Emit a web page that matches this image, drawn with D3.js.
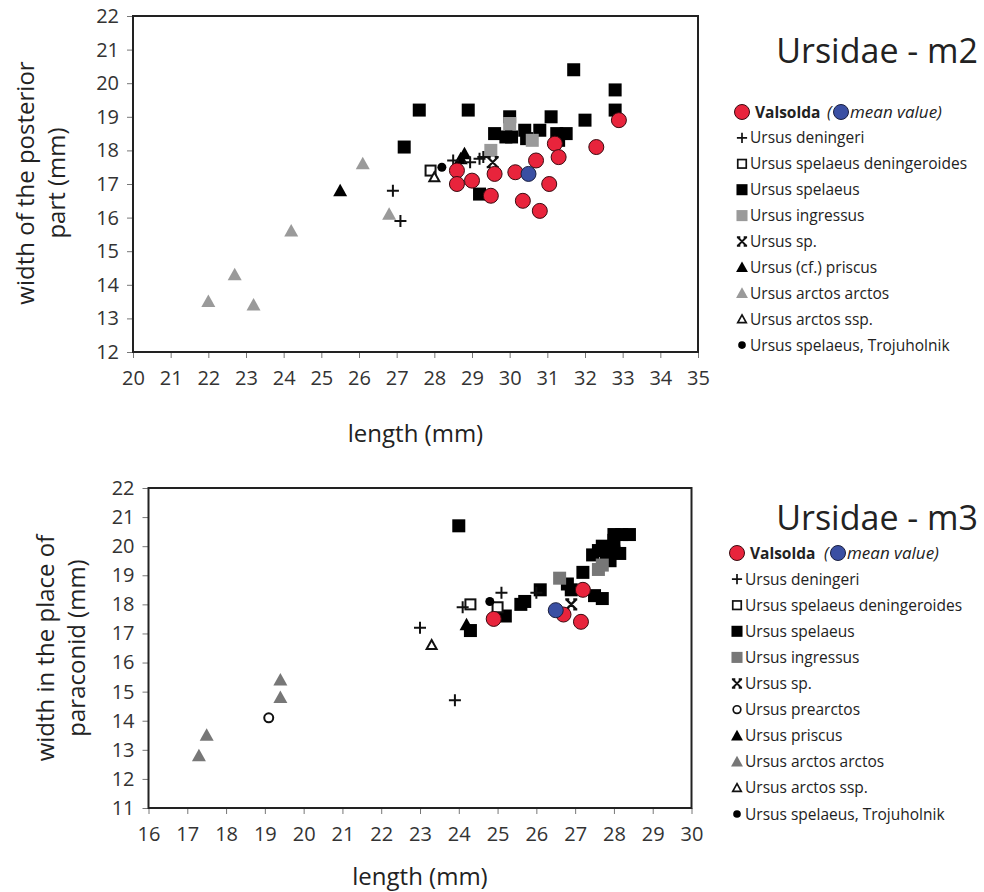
<!DOCTYPE html>
<html lang="en">
<head>
    <meta charset="UTF-8">
    <title>Ursidae m2 / m3</title>
    <style>
        body { margin: 0; background-color: #fff; }
        svg { display: block; }
        text { font-family: "Open Sans", Arial, sans-serif; fill: #222; }
        .tick text { font-size: 20px; fill: #333; }
        .tick line { stroke: #777; }
        .domain { display: none; }
    </style>
    <script src="https://d3js.org/d3.v7.min.js"></script>
</head>
<body>
<svg width="984" height="892"></svg>
<script>
    // ---- m2 data (length, width) ----
    const m2Valsolda = [[32.9,18.9],[32.3,18.1],[31.2,18.2],[31.3,17.8],[30.7,17.7],[30.15,17.35],[29.6,17.3],[29.0,17.1],[28.6,17.4],[28.6,17.0],[29.5,16.65],[31.05,17.0],[30.35,16.5],[30.8,16.2]];
    const m2Mean = [[30.5,17.3]];
    const m2Deningeri = [[26.9,16.8],[27.1,15.9],[28.5,17.7],[28.95,17.65],[29.2,17.75],[29.3,17.8]];
    const m2Deningeroides = [[27.9,17.4]];
    const m2Spelaeus = [[27.2,18.1],[27.6,19.2],[28.9,19.2],[29.2,16.7],[29.6,18.5],[29.9,18.4],[30.05,18.4],[30.0,19.0],[30.4,18.6],[30.8,18.6],[31.1,19.0],[31.25,18.5],[31.5,18.5],[31.3,18.3],[30.45,18.35],[31.7,20.4],[32.0,18.9],[32.8,19.8],[32.8,19.2]];
    const m2Ingressus = [[30.0,18.8],[29.5,18.0],[30.6,18.3]];
    const m2Sp = [[29.55,17.65]];
    const m2Priscus = [[25.5,16.8],[28.8,17.9],[28.7,17.75]];
    const m2Arctos = [[22.0,13.5],[22.7,14.3],[23.2,13.4],[24.2,15.6],[26.1,17.6],[26.8,16.1]];
    const m2ArctosSsp = [[28.0,17.2]];
    const m2Trojuholnik = [[28.2,17.5]];

    // ---- m3 data (length, width) ----
    const m3Valsolda = [[24.9,17.5],[26.7,17.65],[27.15,17.4],[27.2,18.5]];
    const m3Mean = [[26.5,17.8]];
    const m3Deningeri = [[23.0,17.2],[23.9,14.7],[24.1,17.9],[25.1,18.4],[26.0,18.4]];
    const m3Deningeroides = [[24.3,18.0],[25.0,17.9]];
    const m3Spelaeus = [[24.0,20.7],[24.3,17.1],[25.2,17.6],[25.6,18.0],[25.7,18.1],[26.1,18.5],[26.8,18.7],[26.9,18.5],[27.2,19.1],[27.5,18.3],[27.7,18.2],[27.45,19.7],[27.6,19.85],[27.7,20.0],[27.8,19.7],[27.9,19.5],[28.0,19.8],[28.15,19.75],[28.0,20.2],[28.0,20.4],[28.2,20.4],[28.4,20.4]];
    const m3Ingressus = [[26.6,18.9],[27.6,19.2],[27.7,19.35]];
    const m3Sp = [[26.9,18.0]];
    const m3Prearctos = [[19.1,14.1]];
    const m3Priscus = [[24.2,17.3]];
    const m3Arctos = [[17.3,12.8],[17.5,13.5],[19.4,14.8],[19.4,15.4]];
    const m3ArctosSsp = [[23.3,16.6]];
    const m3Trojuholnik = [[24.8,18.1]];

    // ticks
    const m2XTicks = d3.range(20, 36);
    const m2YTicks = d3.range(12, 23);
    const m3XTicks = d3.range(16, 31);
    const m3YTicks = d3.range(11, 23);

    // legends
    const m2Legend = ["Ursus deningeri", "Ursus spelaeus deningeroides", "Ursus spelaeus", "Ursus ingressus", "Ursus sp.", "Ursus (cf.) priscus", "Ursus arctos arctos", "Ursus arctos ssp.", "Ursus spelaeus, Trojuholnik"];
    const m3Legend = ["Ursus deningeri", "Ursus spelaeus deningeroides", "Ursus spelaeus", "Ursus ingressus", "Ursus sp.", "Ursus prearctos", "Ursus priscus", "Ursus arctos arctos", "Ursus arctos ssp.", "Ursus spelaeus, Trojuholnik"];

    const RED = "#e8243c", BLUE = "#3a4fa3";
    const svg = d3.select("svg");

    // draws one marker of given kind at (0,0) into group g
    function marker(g, kind, gray) {
        const grey = gray || "#999";
        switch (kind) {
            case "plus":
                g.append("path").attr("d", "M-6,0H6M0,-6V6").attr("stroke", "#111").attr("stroke-width", 2).attr("fill", "none");
                break;
            case "xmark":
                g.append("path").attr("d", "M-5,-5L5,5M5,-5L-5,5M-6,-5H-2M2,-5H6M-6,5H-2M2,5H6").attr("stroke", "#111").attr("stroke-width", 2.2).attr("fill", "none");
                break;
            case "osquare":
                g.append("rect").attr("x", -5).attr("y", -5).attr("width", 10).attr("height", 10).attr("fill", "#fff").attr("stroke", "#111").attr("stroke-width", 2);
                break;
            case "square":
                g.append("rect").attr("x", -6.5).attr("y", -6.5).attr("width", 13).attr("height", 13).attr("fill", "#000");
                break;
            case "gsquare":
                g.append("rect").attr("x", -6.5).attr("y", -6.5).attr("width", 13).attr("height", 13).attr("fill", grey);
                break;
            case "tri":
                g.append("path").attr("d", "M0,-7L7,5.5H-7Z").attr("fill", "#000");
                break;
            case "gtri":
                g.append("path").attr("d", "M0,-7L7,5.5H-7Z").attr("fill", grey);
                break;
            case "otri":
                g.append("path").attr("d", "M0,-5L5,4H-5Z").attr("fill", "#fff").attr("stroke", "#111").attr("stroke-width", 2);
                break;
            case "dot":
                g.append("circle").attr("r", 4.5).attr("fill", "#000");
                break;
            case "ocircle":
                g.append("circle").attr("r", 4.5).attr("fill", "#fff").attr("stroke", "#111").attr("stroke-width", 2);
                break;
            case "red":
                g.append("circle").attr("r", 7.5).attr("fill", RED).attr("stroke", "#3a0a10").attr("stroke-width", 1);
                break;
            case "blue":
                g.append("circle").attr("r", 7.5).attr("fill", BLUE).attr("stroke", "#1a1f40").attr("stroke-width", 1);
                break;
        }
    }

    function drawPanel(p) {
        const x = d3.scaleLinear().domain(p.xDomain).range([p.left, p.right]);
        const y = d3.scaleLinear().domain(p.yDomain).range([p.bottom, p.top]);

        svg.append("g").attr("transform", `translate(0,${p.bottom})`)
            .call(d3.axisBottom(x).tickValues(p.xTicks).tickSize(6).tickPadding(13));
        svg.append("g").attr("transform", `translate(${p.left},0)`)
            .call(d3.axisLeft(y).tickValues(p.yTicks).tickSize(6).tickPadding(8));

        svg.append("rect")
            .attr("x", p.left).attr("y", p.top)
            .attr("width", p.right - p.left).attr("height", p.bottom - p.top)
            .attr("fill", "none").attr("stroke", "#222").attr("stroke-width", 2);

        // points
        p.series.forEach(s => {
            svg.append("g").selectAll("g")
                .data(s.data)
                .enter().append("g")
                .attr("transform", d => `translate(${x(d[0])},${y(d[1])})`)
                .each(function() { marker(d3.select(this), s.kind, p.gray); });
        });

        // axis titles
        svg.append("text")
            .attr("x", (p.left + p.right) / 2 - 0).attr("y", p.xTitleY)
            .attr("text-anchor", "middle").style("font-size", "24px")
            .text("length (mm)");
        const yt = svg.append("text")
            .attr("transform", `translate(${p.yTitleX},${p.yTitleMid}) rotate(-90)`)
            .attr("text-anchor", "middle").style("font-size", "24px");
        p.yTitle.forEach((t, i) => {
            yt.append("tspan").attr("x", 0).attr("dy", i === 0 ? 0 : 31).text(t);
        });

        // title
        svg.append("text")
            .attr("x", 978).attr("y", p.titleY)
            .attr("text-anchor", "end").style("font-size", "34px")
            .text(p.title);

        // legend
        const lg = svg.append("g");
        const r0 = lg.append("g").attr("transform", `translate(${p.legX},${p.legY})`);
        marker(r0.append("g"), "red");
        r0.append("text").attr("x", 13).attr("y", 5.5).style("font-size", "15.5px").style("font-weight", "bold").text("Valsolda");
        r0.append("text").attr("x", p.parenX).attr("y", 5.5).style("font-size", "16.5px").style("font-style", "italic").text("(");
        marker(r0.append("g").attr("transform", `translate(${p.parenX + 14},0)`), "blue");
        r0.append("text").attr("x", p.parenX + 23).attr("y", 5.5).style("font-size", "17px").style("font-style", "italic").text("mean value)");

        p.legend.forEach((name, i) => {
            const row = lg.append("g").attr("transform", `translate(${p.legX},${p.legY + (i + 1) * p.legStep})`);
            const gm = row.append("g").attr("transform", "scale(0.85)");
            marker(gm, p.legendKinds[i], p.gray);
            row.append("text").attr("x", 8).attr("y", 5.5).style("font-size", "15.5px").text(name);
        });
    }

    drawPanel({
        xDomain: [20, 35], yDomain: [12, 22],
        left: 133, right: 698, top: 16, bottom: 352,
        xTicks: m2XTicks, yTicks: m2YTicks,
        gray: "#9a9a9a",
        xTitleY: 442, yTitleX: 34, yTitleMid: 183,
        yTitle: ["width of the posterior", "part (mm)"],
        title: "Ursidae - m2", titleY: 63,
        legX: 742, legY: 112, legStep: 25.9, parenX: 85,
        legend: m2Legend,
        legendKinds: ["plus", "osquare", "square", "gsquare", "xmark", "tri", "gtri", "otri", "dot"],
        series: [
            { kind: "gtri", data: m2Arctos },
            { kind: "square", data: m2Spelaeus },
            { kind: "gsquare", data: m2Ingressus },
            { kind: "tri", data: m2Priscus },
            { kind: "osquare", data: m2Deningeroides },
            { kind: "otri", data: m2ArctosSsp },
            { kind: "dot", data: m2Trojuholnik },
            { kind: "plus", data: m2Deningeri },
            { kind: "xmark", data: m2Sp },
            { kind: "red", data: m2Valsolda },
            { kind: "blue", data: m2Mean }
        ]
    });

    drawPanel({
        xDomain: [16, 30], yDomain: [11, 22],
        left: 148.5, right: 691.5, top: 488, bottom: 808,
        xTicks: m3XTicks, yTicks: m3YTicks,
        gray: "#777",
        xTitleY: 885, yTitleX: 54, yTitleMid: 648,
        yTitle: ["width in the place of", "paraconid (mm)"],
        title: "Ursidae - m3", titleY: 530,
        legX: 737, legY: 553, legStep: 26.1, parenX: 87,
        legend: m3Legend,
        legendKinds: ["plus", "osquare", "square", "gsquare", "xmark", "ocircle", "tri", "gtri", "otri", "dot"],
        series: [
            { kind: "gtri", data: m3Arctos },
            { kind: "ocircle", data: m3Prearctos },
            { kind: "square", data: m3Spelaeus },
            { kind: "gsquare", data: m3Ingressus },
            { kind: "tri", data: m3Priscus },
            { kind: "osquare", data: m3Deningeroides },
            { kind: "otri", data: m3ArctosSsp },
            { kind: "dot", data: m3Trojuholnik },
            { kind: "plus", data: m3Deningeri },
            { kind: "xmark", data: m3Sp },
            { kind: "red", data: m3Valsolda },
            { kind: "blue", data: m3Mean }
        ]
    });
</script>
</body>
</html>
